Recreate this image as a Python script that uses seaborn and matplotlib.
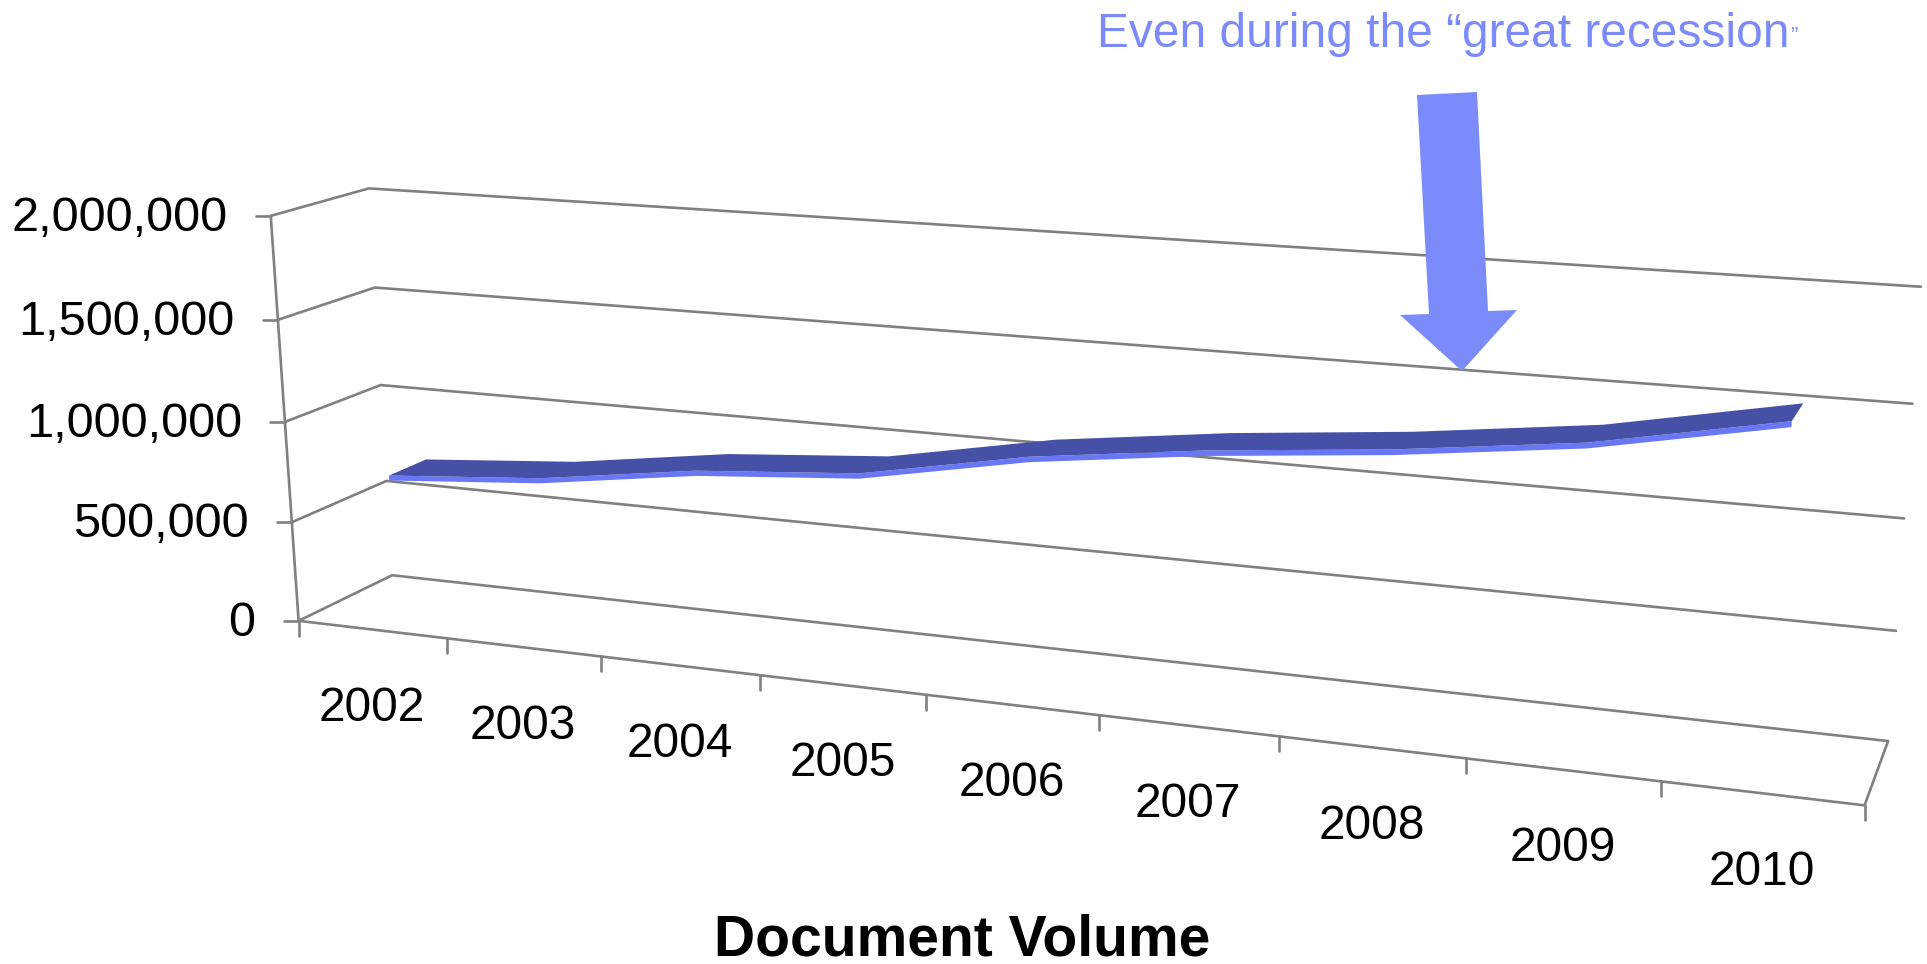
import numpy as np
import seaborn as sns
import matplotlib.pyplot as plt

years = ["2002", "2003", "2004", "2005", "2006", "2007", "2008", "2009", "2010"]
documents = [715000, 775000, 885000, 945000, 1095000, 1195000, 1270000, 1370000, 1530000]
value_ticks = [0, 500000, 1000000, 1500000, 2000000]

GRID = "#808080"
TOP_FACE = "#4650A6"
FRONT_FACE = "#6777F5"
ACCENT = "#7B8CFA"

# where the box of the 3-D chart sits on the page: (category, millions, depth) -> pixel
calibration = [
    (0, 0, 0, 299, 619), (0, 2, 0, 271, 216), (0, 1.5, 0, 277.6, 319), (0, 1, 0, 284.5, 421),
    (0, .5, 0, 291.8, 521), (0, 2, 1, 369, 189), (0, 1.5, 1, 375, 288), (0, 1, 1, 380, 385),
    (0, .5, 1, 386.5, 481), (0, 0, 1, 392, 574), (9, 2, 1, 1921, 287), (9, 1.5, 1, 1912, 404),
    (9, 1, 1, 1905, 518), (9, .5, 1, 1896, 631), (9, 0, 1, 1888, 741), (9, 0, 0, 1865, 803),
    (1, 0, 0, 448, 639), (2, 0, 0, 601, 658), (3, 0, 0, 760, 677), (4, 0, 0, 926, 697),
    (5, 0, 0, 1099, 717), (6, 0, 0, 1278, 738), (7, 0, 0, 1466, 757), (8, 0, 0, 1661, 780),
]


def fit_projection(points):
    """Least squares fit of a 3x4 camera matrix."""
    rows, targets = [], []
    for x, y, z, u, v in points:
        rows.append([x, y, z, 1, 0, 0, 0, 0, -u * x, -u * y, -u * z])
        rows.append([0, 0, 0, 0, x, y, z, 1, -v * x, -v * y, -v * z])
        targets += [u, v]
    sol = np.linalg.lstsq(np.array(rows, float), np.array(targets, float), rcond=None)[0]
    return np.append(sol, 1).reshape(3, 4)


CAMERA = fit_projection(calibration)


def project(cat, value, depth):
    """Category position, value and depth (0 front, 1 back) to page pixels."""
    cat, value, depth = np.broadcast_arrays(
        np.atleast_1d(cat).astype(float), np.atleast_1d(value) / 1e6, np.atleast_1d(depth).astype(float)
    )
    h = CAMERA @ np.vstack([cat, value, depth, np.ones(cat.shape)])
    return h[0] / h[2], h[1] / h[2]


def project_one(cat, value, depth):
    px, py = project(cat, value, depth)
    return float(px[0]), float(py[0])


def draw_path(ax, cat, value, depth, color=GRID, lw=1.9):
    px, py = project(cat, value, depth)
    sns.lineplot(x=px, y=py, sort=False, estimator=None, color=color, linewidth=lw, ax=ax)


sns.set_theme(style="white")
plt.rcParams["font.family"] = ["Liberation Sans", "DejaVu Sans"]

fig = plt.figure(figsize=(19.27, 9.64), dpi=100)
ax = fig.add_axes([0, 0, 1, 1])
ax.set_xlim(0, 1927)
ax.set_ylim(964, 0)
ax.axis("off")

n = len(years)

# walls and floor
for tick in value_ticks:
    draw_path(ax, [0, 0, n], [tick, tick, tick], [0, 1, 1])
    px, py = project_one(0, tick, 0)
    ax.plot([px - 15, px], [py, py], color=GRID, lw=1.9)
    ax.text(px - 43, py + 15, f"{tick:,}", ha="right", va="baseline", fontsize=35, color="black")
draw_path(ax, [0, 0], [0, 2000000], [0, 0])
draw_path(ax, [0, n, n], [0, 0, 0], [0, 0, 1])

# category ticks and labels
for i in range(n + 1):
    px, py = project_one(i, 0, 0)
    ax.plot([px, px], [py, py + 15], color=GRID, lw=1.9)
for i, year in enumerate(years):
    px, py = project_one(i + 0.5, 0, 0)
    ax.text(px, py + 91.5, year, ha="center", va="baseline", fontsize=34.5, color="black")

# the line, a flat ribbon with a thin front face
pos = np.arange(n) + 0.5
values = np.array(documents, float)
front_x, front_y = project(pos, values, 0.27)
back_x, back_y = project(pos, values, 0.67)
low_x, low_y = project(pos, values - 25000, 0.27)
ax.fill(np.r_[front_x, low_x[::-1]], np.r_[front_y, low_y[::-1]], color=FRONT_FACE, lw=0, zorder=4)
ax.fill(np.r_[front_x, back_x[::-1]], np.r_[front_y, back_y[::-1]], color=TOP_FACE, lw=0, zorder=5)
draw_path(ax, pos, values - 12000, np.full(n, 0.27), color=FRONT_FACE, lw=0.4)

# callout
arrow_x = [1417, 1477, 1488, 1517, 1462, 1400, 1429]
arrow_y = [95, 92, 311, 310, 371, 315, 314]
ax.fill(arrow_x, arrow_y, color=ACCENT, lw=0, zorder=6)
ax.text(1097, 47, "Even during the “great recession", ha="left", va="baseline", fontsize=34.5, color=ACCENT)
ax.text(1790, 42, "”", ha="left", va="baseline", fontsize=16, color=ACCENT)

ax.text(962, 955, "Document Volume", ha="center", va="baseline", fontsize=41, fontweight="bold", color="black")

fig.savefig("out.png", dpi=100)
